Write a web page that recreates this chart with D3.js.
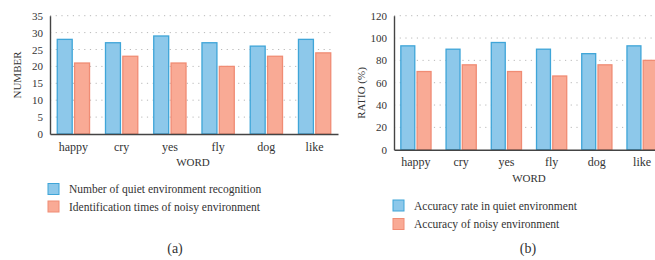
<!DOCTYPE html>
<html><head><meta charset="utf-8">
<script src="https://cdn.jsdelivr.net/npm/d3@7"></script>
<style>body{margin:0;background:#fff}svg{display:block;font-family:"Liberation Serif","DejaVu Serif",serif}</style>
</head><body><svg id="c" width="655" height="260"></svg>
<script>
const words = ["happy","cry","yes","fly","dog","like"];
const quietCount = [28,27,29,27,26,28];
const noisyCount = [21,23,21,20,23,24];
const quietRate = [93,90,96,90,86,93];
const noisyRate = [70,76,70,66,76,80];
const ticksA = [0,5,10,15,20,25,30,35];
const ticksB = [0,20,40,60,80,100,120];
const seriesA = ["Number of quiet environment recognition","Identification times of noisy environment"];
const seriesB = ["Accuracy rate in quiet environment","Accuracy of noisy environment"];
const fills = ["#8dc8ea","#f9aa95"];
const strokes = ["#3fa5d8","#f08c74"];
const FF = "Liberation Serif";

const svg = d3.select("#c");

function panel(o){
  const g = svg.append("g");
  const x = d3.scaleBand().domain(words).range([o.x0, o.x0 + o.step*words.length]).paddingInner(0.31).paddingOuter(0.14);
  const x1 = d3.scaleBand().domain([0,1]).range([0, x.bandwidth()]).paddingInner(0.08);
  const y = d3.scaleLinear().domain([0, o.max]).range([o.y0, o.y1]);
  g.selectAll(".grid").data(o.ticks.filter(t=>t>0)).join("line")
    .attr("x1", o.x0).attr("x2", o.x0 + o.step*words.length - 3)
    .attr("y1", d=>y(d)).attr("y2", d=>y(d))
    .attr("stroke","#b9b9b9").attr("stroke-width",1).attr("stroke-dasharray","1.2,4.5");
  [o.a, o.b].forEach((vals, si)=>{
    g.selectAll(".b"+si).data(vals).join("rect")
      .attr("x",(d,i)=>x(words[i]) + x1(si) + 0.5)
      .attr("y", d=>y(d))
      .attr("width", x1.bandwidth() - 1)
      .attr("height", d=>y(0)-y(d))
      .attr("fill", fills[si]).attr("stroke", strokes[si]).attr("stroke-width",1.3);
  });
  const ya = g.append("g").attr("transform",`translate(${o.x0},0)`)
    .call(d3.axisLeft(y).tickValues(o.ticks).tickSize(0).tickPadding(7));
  ya.select(".domain").attr("stroke","#444").attr("stroke-width",1.4);
  ya.selectAll("text").attr("font-size",11).attr("fill","#333").attr("font-family",FF);
  const xa = g.append("g").attr("transform",`translate(0,${o.y0})`)
    .call(d3.axisBottom(x).tickSize(0).tickPadding(8));
  xa.select(".domain").attr("stroke","#444").attr("stroke-width",1.4);
  xa.selectAll("text").attr("font-size",12).attr("fill","#333").attr("font-family",FF);
  g.append("text").attr("x", o.wordX).attr("y", o.wordY).attr("text-anchor","middle")
    .attr("font-family",FF).attr("font-size",11).attr("fill","#333").text("WORD");
  g.append("text").attr("transform",`translate(${o.ylX},${o.ylY}) rotate(-90)`).attr("text-anchor","middle")
    .attr("font-family",FF).attr("font-size",11).attr("fill","#333").text(o.ylabel);
  o.series.forEach((s,i)=>{
    const ly = o.legY + i*o.legGap;
    g.append("rect").attr("x",o.legX).attr("y",ly-5.5).attr("width",11).attr("height",11)
      .attr("fill",fills[i]).attr("stroke",strokes[i]).attr("stroke-width",1);
    g.append("text").attr("x",o.legX+21).attr("y",ly+4).attr("font-family",FF)
      .attr("font-size",11.5).attr("fill","#333").text(s);
  });
  g.append("text").attr("x",o.capX).attr("y",253).attr("text-anchor","middle")
    .attr("font-family",FF).attr("font-size",14).attr("fill","#333").text(o.cap);
}

panel({x0:50, step:48, y0:134, y1:15.7, max:35, ticks:ticksA, a:quietCount, b:noisyCount,
  wordX:193, wordY:166, ylX:21, ylY:75, ylabel:"NUMBER", series:seriesA, legX:48, legY:189, legGap:17.5, capX:175, cap:"(a)"});
panel({x0:394, step:45, y0:149.7, y1:15.7, max:120, ticks:ticksB, a:quietRate, b:noisyRate,
  wordX:529, wordY:182, ylX:365, ylY:93, ylabel:"RATIO (%)", series:seriesB, legX:393, legY:205.5, legGap:18.5, capX:528, cap:"(b)"});
</script></body></html>
